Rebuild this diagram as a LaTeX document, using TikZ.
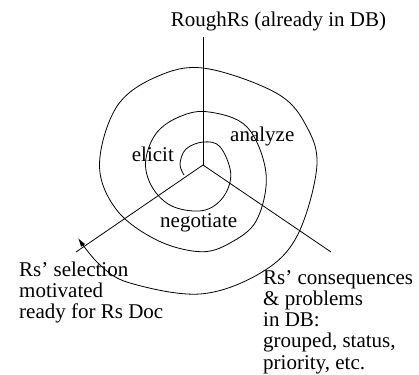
\documentclass[tikz,border=0pt]{standalone}
\usepackage{fontspec}
\setmainfont{Liberation Serif}
\usetikzlibrary{arrows.meta}
\begin{document}
\begin{tikzpicture}[x=1pt,y=-1pt,
  lbl/.style={inner sep=0pt,anchor=base west,font=\fontsize{21}{21.3}\selectfont},
  blk/.style={lbl,align=left},
  ray/.style={line width=0.8pt},
  spiral/.style={line width=0.8pt,-{Latex[length=9pt,width=5pt]}}]
\useasboundingbox (0,0) rectangle (419,374);
\coordinate (C) at (203,165);
\node[lbl] (rough) at (170.7,27) {RoughRs (already in DB)};
\coordinate (top) at (203,37);
\coordinate (left) at (76,252);
\coordinate (right) at (331,252);
\draw[ray] (top) -- (C);
\draw[ray] (C) -- (left);
\draw[ray] (C) -- (right);
\node[lbl] (analyze) at (230,141.7) {analyze};
\node[lbl] (elicit) at (131.7,161.7) {elicit};
\node[lbl] (negotiate) at (160,227) {negotiate};
% base anchor of a multi-line node is the baseline of its last line
\node[blk] (sel) at (19,318.6) {Rs’ selection\\motivated\\ready for Rs Doc};
\node[blk] (cons) at (263,369.2) {Rs’ consequences\\\& problems\\in DB:\\grouped, status,\\priority, etc.};
\draw[spiral] plot[smooth,tension=0.6] coordinates {
 (184,175) (180,164) (186,149) (203.3,142) (220,146.7) (230.7,173.3)
 (223.3,197) (203.3,210.5) (173.3,206.7) (153.3,189) (145.5,163.3)
 (155,135) (176.7,118) (206.7,111.7) (246.7,126.7) (266,173.3)
 (256.7,220) (230,243) (200,251.7) (156.7,240) (116.7,210) (99.5,165)
 (116.7,106.7) (156.7,76.7) (205,68.3) (276.7,93.3) (306.7,126.7)
 (316.7,168) (296.7,236.7) (260,273.3) (200,294) (130,283) (100,265) (78,238)};
\end{tikzpicture}
\end{document}
